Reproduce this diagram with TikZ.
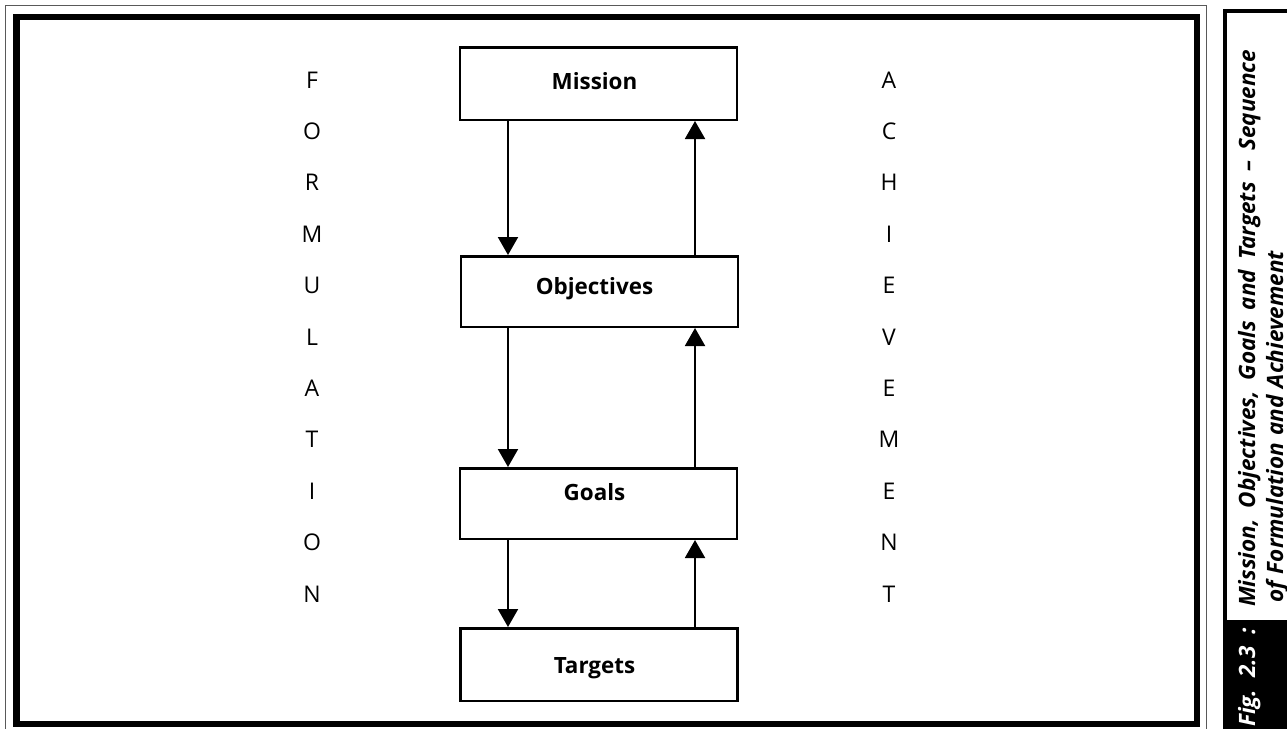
\documentclass[tikz,border=0pt]{standalone}
\usepackage{fontspec}
\setmainfont{Open Sans}
\usetikzlibrary{arrows.meta}

\begin{document}
\begin{tikzpicture}[x=1pt,y=-1pt,
  stage/.style={draw, line width=2.5pt, minimum width=277pt, inner sep=0pt},
  stagetext/.style={anchor=base, inner sep=0pt, font=\fontsize{22.4}{24}\selectfont\bfseries},
  letter/.style={anchor=base, inner sep=0pt, font=\fontsize{23}{24}\selectfont},
  flow/.style={line width=2pt, -{Triangle[length=18pt,width=20pt]}},
  capfont/.style={font=\fontsize{22.5}{24}\selectfont\bfseries\itshape, inner sep=0pt, rotate=90, anchor=base west}
]
\useasboundingbox (0,0) rectangle (1287,728);

% frames
\draw[black!65, line width=1.2pt] (5.5,5.5) rectangle (1206.5,740);
\draw[line width=6.5pt] (16.5,17) rectangle (1196.75,724);

% caption panel
\draw[line width=4pt] (1224.5,740) -- (1224.5,10.5) -- (1300,10.5);
\fill (1222.5,620) rectangle (1300,740);

% stage boxes
\node[stage, minimum height=72.5pt] (mission)    at (598.5,83.5)  {};
\node[stage, minimum height=70.5pt] (objectives) at (599.5,291.5) {};
\node[stage, minimum height=70.5pt] (goals)      at (598.5,503.5) {};
\node[stage, minimum height=72.5pt] (targets)    at (599,664.5)   {};

\node[stagetext] (tmission)    at (594.5,89.3)  {Mission};
\node[stagetext] (tobjectives) at (594.5,294)   {Objectives};
\node[stagetext] (tgoals)      at (594.5,500)   {Goals};
\node[stagetext] (ttargets)    at (594.5,673)   {Targets};

% connector columns
\coordinate (down) at (508,0);
\coordinate (up)   at (695,0);

\draw[flow] (mission.south -| down)    -- (objectives.north -| down);
\draw[flow] (objectives.south -| down) -- (goals.north -| down);
\draw[flow] (goals.south -| down)      -- (targets.north -| down);
\draw[flow] (targets.north -| up)      -- (goals.south -| up);
\draw[flow] (goals.north -| up)        -- (objectives.south -| up);
\draw[flow] (objectives.north -| up)   -- (mission.south -| up);

% side words, one letter per row
\foreach \ch [count=\i from 0] in {F,O,R,M,U,L,A,T,I,O,N}
  \node[letter] (form\i) at (312,88+51.4*\i) {\ch};
\foreach \ch [count=\i from 0] in {A,C,H,I,E,V,E,M,E,N,T}
  \node[letter] (ach\i) at (889,88+51.4*\i) {\ch};

% caption; first line justified to the panel height
\node[capfont, text=white] (fig) at (1255,727)
  {\hbox to 99pt{Fig.\hfil 2.3\hfil :}};
\node[capfont] (cap1) at (1255,607)
  {\spaceskip=0.3em plus 1fil\hbox to 557pt{Mission, Objectives, Goals and Targets – Sequence}};
\node[capfont] (cap2) at (1283,603)
  {\spaceskip=0.32em\relax of Formulation and Achievement};
\end{tikzpicture}
\end{document}
